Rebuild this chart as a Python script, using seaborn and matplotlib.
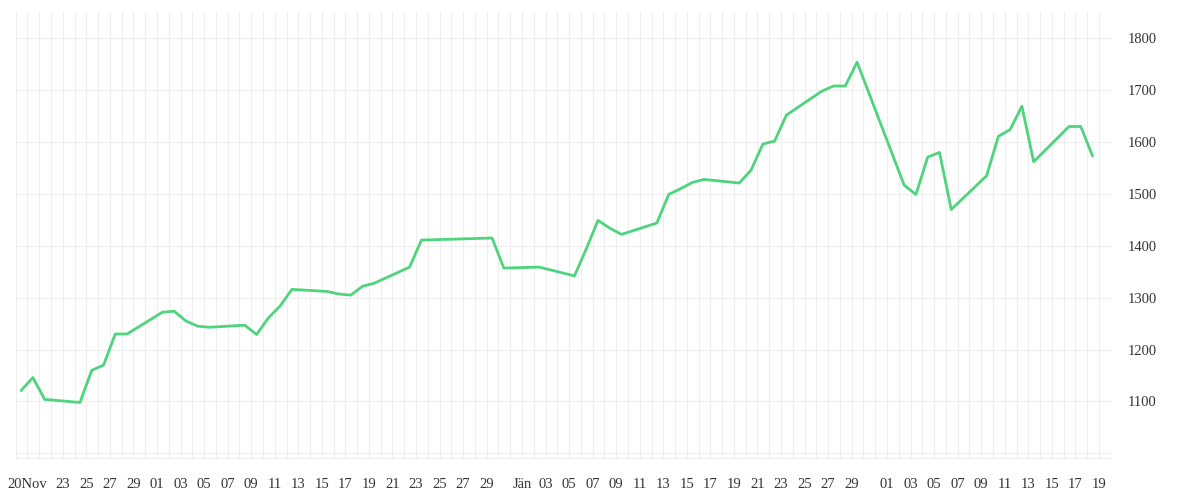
import matplotlib
matplotlib.use("Agg")
import matplotlib.pyplot as plt
import matplotlib.dates as mdates
import seaborn as sns
import pandas as pd
import numpy as np

# ---- data ----
dates = ["2025-11-19", "2025-11-20", "2025-11-21", "2025-11-24", "2025-11-25", "2025-11-26",
         "2025-11-27", "2025-11-28", "2025-12-01", "2025-12-02", "2025-12-03", "2025-12-04",
         "2025-12-05", "2025-12-08", "2025-12-09", "2025-12-10", "2025-12-11", "2025-12-12",
         "2025-12-15", "2025-12-16", "2025-12-17", "2025-12-18", "2025-12-19", "2025-12-22",
         "2025-12-23", "2025-12-29", "2025-12-30", "2026-01-02", "2026-01-05", "2026-01-06",
         "2026-01-07", "2026-01-08", "2026-01-09", "2026-01-12", "2026-01-13", "2026-01-14",
         "2026-01-15", "2026-01-16", "2026-01-19", "2026-01-20", "2026-01-21", "2026-01-22",
         "2026-01-23", "2026-01-26", "2026-01-27", "2026-01-28", "2026-01-29", "2026-02-02",
         "2026-02-03", "2026-02-04", "2026-02-05", "2026-02-06", "2026-02-09", "2026-02-10",
         "2026-02-11", "2026-02-12", "2026-02-13", "2026-02-16", "2026-02-17", "2026-02-18"]
values = [1121, 1146, 1104, 1098, 1160, 1170, 1230, 1230,
          1272, 1274, 1255, 1245, 1243, 1247, 1229, 1261, 1284, 1316,
          1312, 1307, 1305, 1322, 1328, 1359, 1411, 1415, 1357,
          1359, 1342, 1394, 1449, 1434, 1422, 1444, 1499, 1510, 1522, 1528,
          1521, 1546, 1596, 1602, 1652, 1698, 1708, 1708, 1754,
          1517, 1499, 1571, 1580, 1470, 1535, 1611, 1624, 1669, 1562,
          1630, 1630, 1573]

xtick_dates = ["2025-11-20", "2025-11-23", "2025-11-25", "2025-11-27", "2025-11-29",
               "2025-12-01", "2025-12-03", "2025-12-05", "2025-12-07", "2025-12-09",
               "2025-12-11", "2025-12-13", "2025-12-15", "2025-12-17", "2025-12-19",
               "2025-12-21", "2025-12-23", "2025-12-25", "2025-12-27", "2025-12-29",
               "2026-01-01", "2026-01-03", "2026-01-05", "2026-01-07", "2026-01-09",
               "2026-01-11", "2026-01-13", "2026-01-15", "2026-01-17", "2026-01-19",
               "2026-01-21", "2026-01-23", "2026-01-25", "2026-01-27", "2026-01-29",
               "2026-02-01", "2026-02-03", "2026-02-05", "2026-02-07", "2026-02-09",
               "2026-02-11", "2026-02-13", "2026-02-15", "2026-02-17", "2026-02-19"]
xtick_texts = ["20Nov", "23", "25", "27", "29",
               "01", "03", "05", "07", "09", "11", "13", "15", "17", "19", "21", "23", "25", "27", "29",
               "Jän", "03", "05", "07", "09", "11", "13", "15", "17", "19", "21", "23", "25", "27", "29",
               "01", "03", "05", "07", "09", "11", "13", "15", "17", "19"]
ytick_values = [1000, 1100, 1200, 1300, 1400, 1500, 1600, 1700, 1800]
ytick_texts = ["", "1100", "1200", "1300", "1400", "1500", "1600", "1700", "1800"]

# ---- plot ----
sns.set_style("white")
plt.rcParams["font.family"] = ["Liberation Serif", "DejaVu Serif"]

df = pd.DataFrame({"date": pd.to_datetime(dates) + pd.Timedelta(hours=11), "value": values})

fig = plt.figure(figsize=(12, 5), dpi=100)
ax = fig.add_axes([15.7 / 1200, 1 - 458.3 / 500, (1110.7 - 15.7) / 1200, (458.3 - 12) / 500])

grid_c = "#eeeeee"
sns.lineplot(data=df, x="date", y="value", ax=ax, color="#4ed47d", linewidth=2.0, zorder=5)

x0 = pd.Timestamp("2025-11-19")
x1 = pd.Timestamp("2026-02-20")
ax.set_xlim(x0, x1)
ax.set_ylim(990.4, 1850.7)

all_days = pd.date_range(x0, x1, freq="D")
lab_map = dict(zip(pd.to_datetime(xtick_dates), xtick_texts))
ax.set_xticks(all_days)
ax.set_xticklabels([lab_map.get(d, "") for d in all_days])
ax.tick_params(axis="x", length=7.2, width=0.75, color=grid_c, pad=7,
               labelsize=10.5, labelcolor="#333333")

ax.yaxis.tick_right()
ax.set_yticks(ytick_values)
ax.set_yticklabels(ytick_texts)
ax.tick_params(axis="y", length=0, pad=12, labelsize=10.5, labelcolor="#333333")

ax.grid(True, axis="both", color=grid_c, linewidth=0.75)
ax.set_axisbelow(True)
for s in ["top", "left", "right"]:
    ax.spines[s].set_visible(False)
ax.spines["bottom"].set_color(grid_c)
ax.spines["bottom"].set_linewidth(0.75)
ax.set_xlabel("")
ax.set_ylabel("")

fig.savefig("out.png", dpi=100)
